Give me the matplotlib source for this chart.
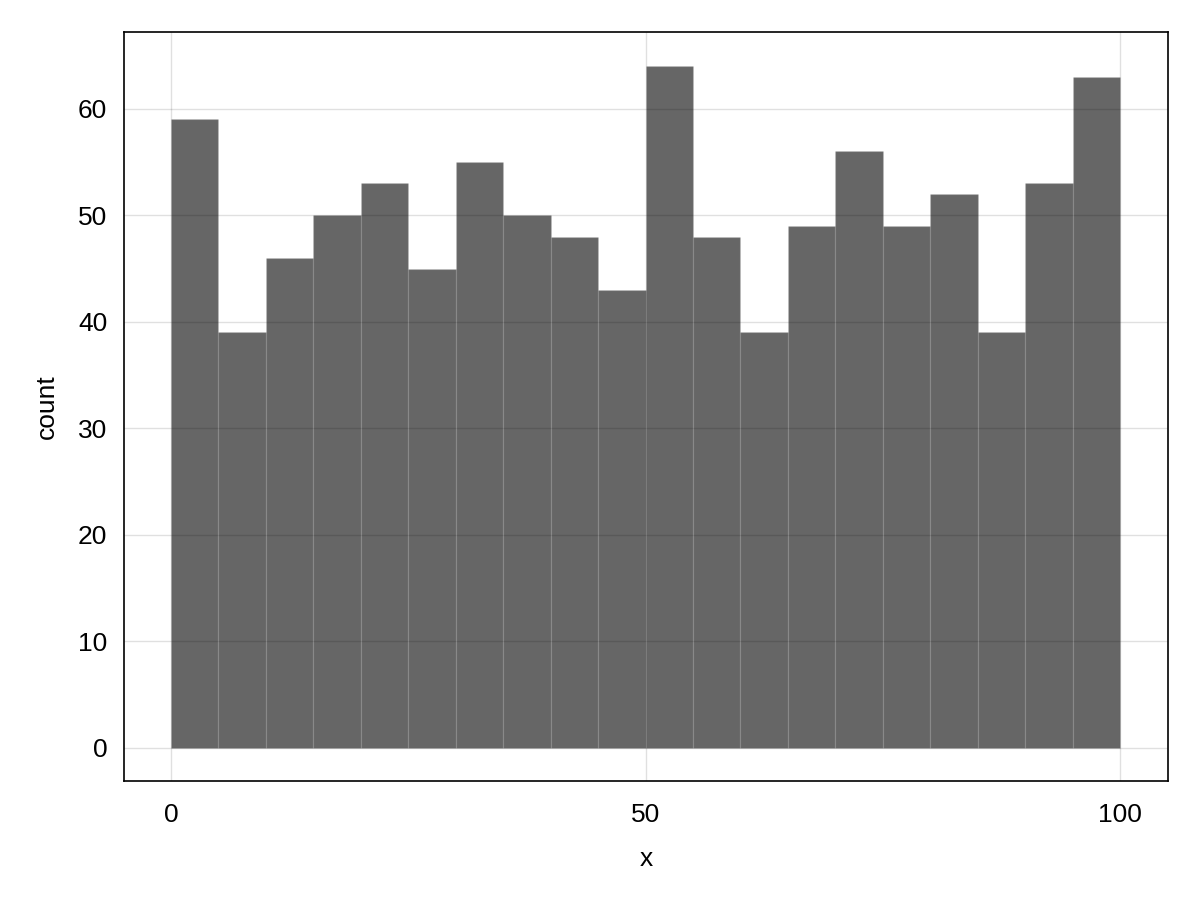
import matplotlib
matplotlib.use("Agg")
import matplotlib.pyplot as plt
import numpy as np

bin_edges = list(range(0, 105, 5))
counts = [59, 39, 46, 50, 53, 45, 55, 50, 48, 43, 64, 48, 39, 49, 56, 49, 52, 39, 53, 63]
x_ticks = [0, 50, 100]
y_ticks = [0, 10, 20, 30, 40, 50, 60]

plt.rcParams['font.family'] = ['Liberation Sans', 'DejaVu Sans']
fig = plt.figure(figsize=(12, 9), dpi=100)
ax = fig.add_axes([124/1200, 1 - 781/900, (1168-124)/1200, (781-32)/900])

ax.grid(True, color='black', alpha=0.12, linewidth=1.0, zorder=0)
ax.set_axisbelow(True)
ax.bar(bin_edges[:-1], counts, width=5, align='edge', color=(0, 0, 0, 0.6),
       edgecolor=(1, 1, 1, 0.08), linewidth=1.0, zorder=2)

ax.set_xlim(-4.95, 105.05)
ax.set_ylim(-3.1, 67.2)
ax.set_xticks(x_ticks)
ax.set_yticks(y_ticks)
ax.tick_params(axis='x', length=0, labelsize=19, pad=16)
ax.tick_params(axis='y', length=0, labelsize=19, pad=12)
for s in ax.spines.values():
    s.set_linewidth(1.2)
ax.set_xlabel('x', fontsize=19, labelpad=14)
ax.set_ylabel('count', fontsize=19, labelpad=14)

fig.savefig('out.png', dpi=100)
